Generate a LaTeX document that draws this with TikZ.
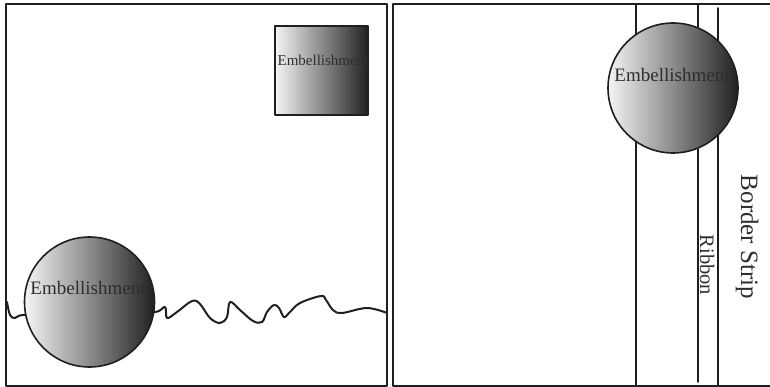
\documentclass[tikz,border=0pt]{standalone}
\usepackage{fontspec}
\setmainfont{Liberation Serif}
\definecolor{PageInk}{gray}{0.12}
\definecolor{PageText}{gray}{0.18}
\definecolor{TintLight}{gray}{0.96}
\definecolor{TintDark}{gray}{0.13}
\tikzset{
    layout/diagram/.style={
        x=1pt, y=-1pt,
        draw=PageInk,
        text=PageText,
        line cap=round,
        line join=round
    },
    layout/page/.style={draw=PageInk, line width=2pt},
    layout/strip/.style={draw=PageInk, line width=1.6pt},
    layout/trim/.style={draw=PageInk, line width=2pt},
    layout/embellish/.style={
        draw=PageInk, line width=1.6pt,
        left color=TintLight, right color=TintDark
    },
    layout/label/.style={inner sep=0pt, font=\fontsize{19}{21}\selectfont},
    layout/small/.style={inner sep=0pt, font=\fontsize{15}{17}\selectfont},
    layout/side/.style={inner sep=0pt, rotate=-90}
}
\begin{document}
\begin{tikzpicture}[layout/diagram]
    \useasboundingbox (0,0) rectangle (770,387);
    % left page
    \draw[layout/page] (6,4) rectangle (387,386);
    \draw[layout/trim] plot[smooth, tension=0.6] coordinates {
        (7,302) (10,315) (15,318) (23,315) (60,313) (120,312)
        (155,312) (165,307) (167,318) (177,312) (192,301) (200,304)
        (210,318) (220,323) (227,317) (230,302) (240,310) (253,321)
        (262,322) (267,312) (274,305) (279,308) (284,317) (290,312)
        (300,303) (321,296) (326,300) (333,310) (342,313) (367,308)
        (387,313)};
    \node[layout/embellish, circle, minimum size=130pt] (lowdot) at (89.5,302) {};
    \node[layout/label] (lowtext) at (88,288) {Embellishment};
    \node[layout/embellish, rectangle, minimum width=93pt, minimum height=89pt]
        (tagbox) at (321.5,70.5) {};
    \node[layout/small] (tagtext) at (323,60) {Embellishment};
    % right page
    \draw[layout/page] (770,4) -- (393,4) -- (393,386) -- (770,386);
    \draw[layout/strip] (636,4) -- (636,386);
    \draw[layout/strip] (698,4) -- (698,382);
    \draw[layout/strip] (718,8) -- (718,386);
    \node[layout/embellish, circle, minimum size=130pt] (topdot) at (673,88) {};
    \node[layout/label] (toptext) at (672,75) {Embellishment};
    \node[layout/side, font=\fontsize{20.5}{22}\selectfont] (ribbon) at (707,265) {Ribbon};
    \node[layout/side, font=\fontsize{25}{27}\selectfont] (border) at (747,237) {Border Strip};
\end{tikzpicture}
\end{document}
